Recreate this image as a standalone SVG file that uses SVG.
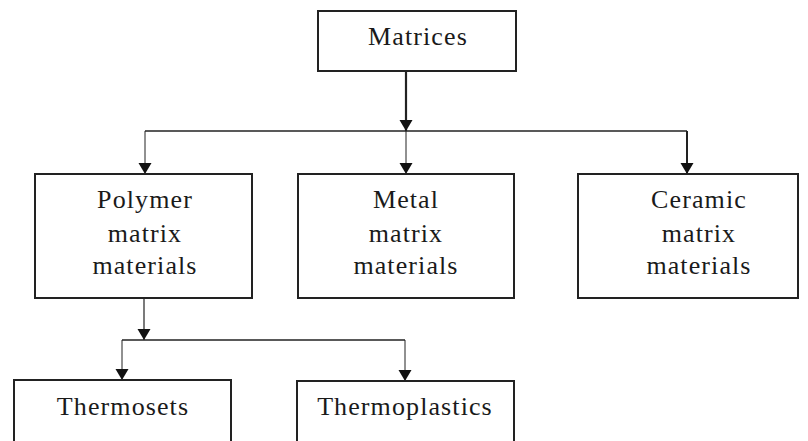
<svg xmlns="http://www.w3.org/2000/svg" width="808" height="441" viewBox="0 0 808 441">
<defs>
<marker id="ah" markerUnits="userSpaceOnUse" markerWidth="12" markerHeight="14" refX="11" refY="7" orient="auto" viewBox="0 0 12 14">
<path d="M0,0.5 L11,7 L0,13.5 Z" fill="#111"/>
</marker>
<style>
.box{fill:#fff;stroke:#222;stroke-width:2}
.t{font-family:'Liberation Serif','DejaVu Serif','Times New Roman',serif;font-size:26px;letter-spacing:1.1px;fill:#1a1a1a;text-anchor:middle}
.c{stroke:#222;fill:none}
</style>
</defs>
<rect width="808" height="441" fill="#fff"/>
<g id="connectors">
<line class="c" x1="406" y1="71" x2="406" y2="131" stroke-width="2.2" marker-end="url(#ah)"/>
<line class="c" x1="145" y1="131" x2="687" y2="131" stroke-width="1.6"/>
<line class="c" x1="145" y1="131" x2="145" y2="174" stroke-width="1" marker-end="url(#ah)"/>
<line class="c" x1="406" y1="131" x2="406" y2="174" stroke-width="1" marker-end="url(#ah)"/>
<line class="c" x1="687" y1="131" x2="687" y2="174" stroke-width="2" marker-end="url(#ah)"/>
<line class="c" x1="144" y1="298" x2="144" y2="340" stroke-width="1.2" marker-end="url(#ah)"/>
<line class="c" x1="122" y1="340" x2="405" y2="340" stroke-width="1.6"/>
<line class="c" x1="122" y1="340" x2="122" y2="380" stroke-width="1" marker-end="url(#ah)"/>
<line class="c" x1="405" y1="340" x2="405" y2="381" stroke-width="1" marker-end="url(#ah)"/>
</g>
<g id="matrices">
<rect class="box" x="318" y="11" width="198" height="60"/>
<text class="t" x="418" y="45" font-family="Liberation Serif, serif">Matrices</text>
</g>
<g id="polymer">
<rect class="box" x="35" y="174" width="217" height="124"/>
<text class="t" x="145" y="208">Polymer</text>
<text class="t" x="145" y="242">matrix</text>
<text class="t" x="145" y="274">materials</text>
</g>
<g id="metal">
<rect class="box" x="298" y="174" width="216" height="124"/>
<text class="t" x="406" y="208">Metal</text>
<text class="t" x="406" y="242">matrix</text>
<text class="t" x="406" y="274">materials</text>
</g>
<g id="ceramic">
<rect class="box" x="578" y="174" width="220" height="124"/>
<text class="t" x="699" y="208">Ceramic</text>
<text class="t" x="699" y="242">matrix</text>
<text class="t" x="699" y="274">materials</text>
</g>
<g id="thermosets">
<rect class="box" x="14" y="380" width="217" height="80"/>
<text class="t" x="123" y="415">Thermosets</text>
</g>
<g id="thermoplastics">
<rect class="box" x="297" y="381" width="217" height="80"/>
<text class="t" x="405" y="415">Thermoplastics</text>
</g>
</svg>
